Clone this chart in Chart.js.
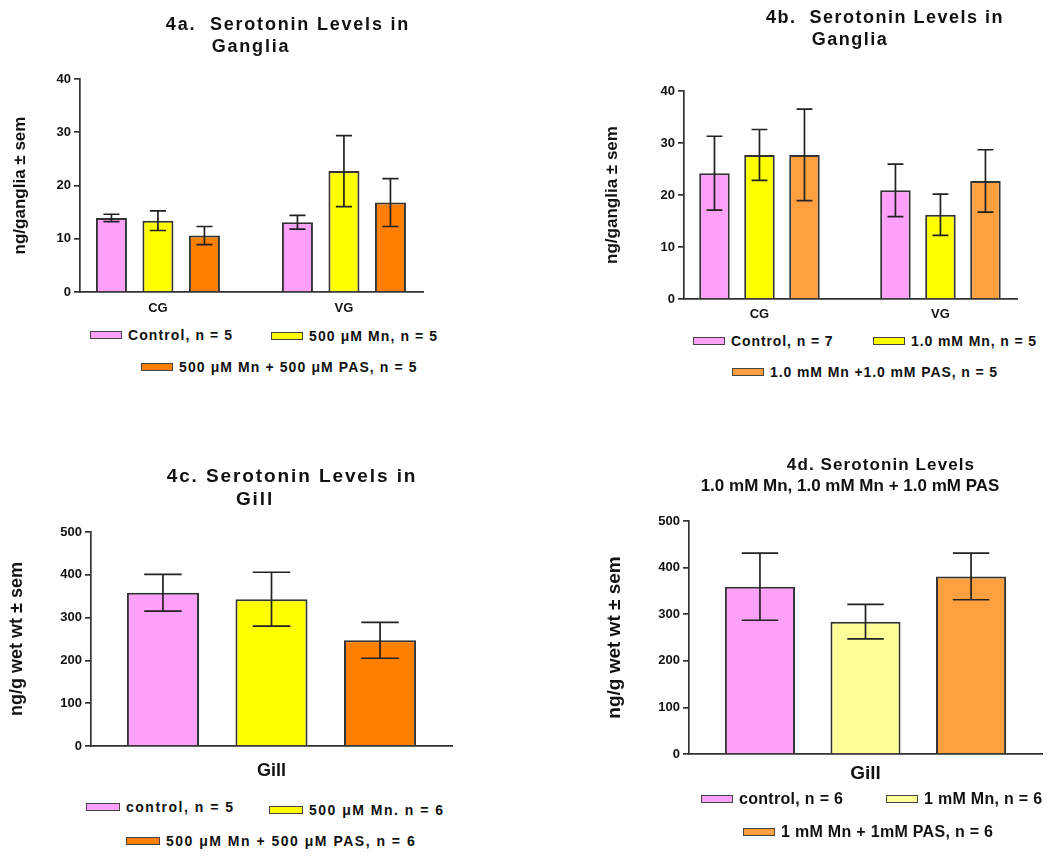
<!DOCTYPE html>
<html>
<head>
<meta charset="utf-8">
<script src="https://cdn.jsdelivr.net/npm/chart.js@4.4.0/dist/chart.umd.min.js"></script>
<style>
  body{margin:0;background:#fff;width:1050px;height:857px;position:relative;overflow:hidden;
       font-family:"Liberation Sans",Arial,sans-serif;color:#111}
  canvas{position:absolute}
  .t{position:absolute;font-weight:bold;white-space:pre;transform:translateX(-50%);line-height:1}
  .lg{position:absolute;display:flex;align-items:center;height:20px;font-weight:bold;white-space:pre;line-height:1}
  .lg i{display:inline-block;height:6px;border:1.5px solid #444;margin-right:6px}
</style>
</head>
<body>
<canvas id="c4a" width="440" height="322" style="left:0;top:0"></canvas>
<canvas id="c4b" width="447" height="330" style="left:590px;top:0"></canvas>
<canvas id="c4c" width="470" height="360" style="left:0;top:430px"></canvas>
<canvas id="c4d" width="460" height="350" style="left:590px;top:440px"></canvas>

<script>
// ---- data ----
const gangliaGroups = ['CG', 'VG'];
const gillGroups = ['Gill'];

// 4a  ng/ganglia, mean and sem for CG, VG
const a_ctrl = [13.9, 13.1],  a_ctrl_sem = [0.7, 1.3];
const a_mn   = [13.4, 22.7],  a_mn_sem   = [1.85, 6.65];
const a_pas  = [10.6, 16.8],  a_pas_sem  = [1.7, 4.5];
const a_names = ['Control, n = 5', '500 \u03bcM Mn, n = 5', '500 \u03bcM Mn + 500 \u03bcM PAS, n = 5'];

// 4b
const b_ctrl = [24.2, 20.9],  b_ctrl_sem = [7.1, 5.05];
const b_mn   = [27.7, 16.2],  b_mn_sem   = [4.9, 3.95];
const b_pas  = [27.7, 22.7],  b_pas_sem  = [8.8, 6.0];
const b_names = ['Control, n = 7', '1.0 mM Mn, n = 5', '1.0 mM Mn +1.0 mM PAS, n = 5'];

// 4c  ng/g wet wt
const c_vals = [358, 343, 247], c_sem = [43, 63, 42];
const c_names = ['control, n = 5', '500 \u03bcM Mn. n = 6', '500 \u03bcM Mn + 500 \u03bcM PAS, n = 6'];

// 4d
const d_vals = [359, 284, 381], d_sem = [72, 37, 50];
const d_names = ['control, n = 6', '1 mM Mn, n = 6', '1 mM Mn + 1mM PAS, n = 6'];

const yTicksA = {max: 40, step: 10};
const yTicksC = {max: 500, step: 100};

const PINK = '#ffa0fb', YEL = '#ffff00', ORG = '#ff8000', LORG = '#ffa040', LYEL = '#ffff99';
const FONT = '"Liberation Sans", Arial, sans-serif';

// mean +- sem whiskers over each bar
const semBars = {
  id: 'semBars',
  afterDatasetsDraw(chart) {
    const ctx = chart.ctx, y = chart.scales.y;
    ctx.save();
    ctx.strokeStyle = '#222'; ctx.lineWidth = 1.7;
    chart.data.datasets.forEach((ds, i) => {
      chart.getDatasetMeta(i).data.forEach((bar, j) => {
        const d = ds.data[j];
        const mean = typeof d === 'object' ? d.y : d;
        const hi = y.getPixelForValue(mean + ds.sem[j]);
        const lo = y.getPixelForValue(mean - ds.sem[j]);
        const half = bar.width * 0.26;
        ctx.beginPath();
        ctx.moveTo(bar.x, hi); ctx.lineTo(bar.x, lo);
        ctx.moveTo(bar.x - half, hi); ctx.lineTo(bar.x + half, hi);
        ctx.moveTo(bar.x - half, lo); ctx.lineTo(bar.x + half, lo);
        ctx.stroke();
      });
    });
    ctx.restore();
  }
};

function barSet(label, color, data, sem) {
  return {label, data, sem, backgroundColor: color, borderColor: '#333', borderWidth: 2};
}

function makeChart(id, o) {
  const xScale = o.groups.length > 1 ? {
      type: 'linear', min: o.xMin, max: o.xMax, offset: false,
      afterBuildTicks: s => { s.ticks = o.groups.map((_, i) => ({value: i})); },
      ticks: {callback: v => o.groups[v], font: {family: FONT, size: o.xFont, weight: 'bold'}, color: '#111', padding: o.xPad}
    } : {
      type: 'category', offset: true,
      ticks: {font: {family: FONT, size: o.xFont, weight: 'bold'}, color: '#111', padding: o.xPad}
    };
  Object.assign(xScale, {
    grid: {display: false},
    border: {display: true, color: '#333', width: 1.7},
    afterFit: s => { s.height = o.xH; }
  });
  return new Chart(document.getElementById(id), {
    type: 'bar',
    data: {labels: o.groups.length > 1 ? undefined : o.groups, datasets: o.datasets},
    options: {
      responsive: false, animation: false, devicePixelRatio: 1,
      categoryPercentage: o.cat, barPercentage: o.bar,
      layout: {padding: {top: o.padTop, right: o.padRight, left: 0, bottom: 0}},
      plugins: {legend: {display: false}, tooltip: {enabled: false}},
      scales: {
        x: xScale,
        y: {
          min: 0, max: o.yt.max,
          ticks: {stepSize: o.yt.step, font: {family: FONT, size: 13, weight: 'bold'}, color: '#111', padding: 3},
          grid: {drawOnChartArea: false, drawTicks: true, tickLength: 6, color: '#333', lineWidth: 1.7},
          border: {display: true, color: '#333', width: 1.7},
          title: {display: true, text: o.yTitle, color: '#111',
                  font: {family: FONT, size: o.yTitleSize, weight: 'bold', lineHeight: 1.2},
                  padding: {top: o.yTitlePad, bottom: 0}},
          afterFit: s => { s.width = o.yW; }
        }
      }
    },
    plugins: [semBars]
  });
}

const pts = arr => arr.map((v, i) => ({x: i, y: v}));

const chA = makeChart('c4a', {
  groups: gangliaGroups, xMin: -0.419, xMax: 1.425, cat: 0.75, bar: 0.667,
  padTop: 79, padRight: 17, yW: 80, xH: 30, xFont: 13, xPad: 1, yt: yTicksA,
  yTitle: 'ng/ganglia \u00b1 sem', yTitleSize: 17, yTitlePad: 9.8,
  datasets: [barSet(a_names[0], PINK, pts(a_ctrl), a_ctrl_sem),
             barSet(a_names[1], YEL, pts(a_mn), a_mn_sem),
             barSet(a_names[2], ORG, pts(a_pas), a_pas_sem)]
});

const chB = makeChart('c4b', {
  groups: gangliaGroups, xMin: -0.417, xMax: 1.423, cat: 0.746, bar: 0.678,
  padTop: 91, padRight: 20, yW: 94, xH: 31, xFont: 13, xPad: 0, yt: yTicksA,
  yTitle: 'ng/ganglia \u00b1 sem', yTitleSize: 17, yTitlePad: 11.8,
  datasets: [barSet(b_names[0], PINK, pts(b_ctrl), b_ctrl_sem),
             barSet(b_names[1], YEL, pts(b_mn), b_mn_sem),
             barSet(b_names[2], LORG, pts(b_pas), b_pas_sem)]
});

const chC = makeChart('c4c', {
  groups: gillGroups, cat: 0.902, bar: 0.664,
  padTop: 102, padRight: 18, yW: 91, xH: 44, xFont: 18, xPad: 6, yt: yTicksC,
  yTitle: 'ng/g wet wt \u00b1 sem', yTitleSize: 18, yTitlePad: 6.2,
  datasets: [barSet(c_names[0], PINK, [c_vals[0]], [c_sem[0]]),
             barSet(c_names[1], YEL, [c_vals[1]], [c_sem[1]]),
             barSet(c_names[2], ORG, [c_vals[2]], [c_sem[2]])]
});

const chD = makeChart('c4d', {
  groups: gillGroups, cat: 0.897, bar: 0.664,
  padTop: 81, padRight: 8, yW: 99, xH: 36, xFont: 19, xPad: 0, yt: yTicksC,
  yTitle: 'ng/g wet wt \u00b1 sem', yTitleSize: 19, yTitlePad: 13.6,
  datasets: [barSet(d_names[0], PINK, [d_vals[0]], [d_sem[0]]),
             barSet(d_names[1], LYEL, [d_vals[1]], [d_sem[1]]),
             barSet(d_names[2], LORG, [d_vals[2]], [d_sem[2]])]
});

// ---- titles ----
function title(text, cx, capTop, size, spacing) {
  const el = document.createElement('div');
  el.className = 't';
  el.textContent = text;
  el.style.cssText = `left:${cx}px;top:${capTop - 0.13 * size}px;font-size:${size}px;letter-spacing:${spacing}px`;
  document.body.appendChild(el);
}
title('4a.  Serotonin Levels in', 288, 17, 18, 1.8);
title('Ganglia', 251, 39, 18, 1.8);
title('4b.  Serotonin Levels in', 885, 10, 18, 1.5);
title('Ganglia', 850, 32, 18, 1.5);
title('4c. Serotonin Levels in', 292, 468, 19, 1.9);
title('Gill', 255, 491, 19, 1.9);
title('4d. Serotonin Levels', 881, 458, 17, 1.1);
title('1.0 mM Mn, 1.0 mM Mn + 1.0 mM PAS', 850, 479, 17, 0);

// ---- legends built from the datasets ----
function legend(chart, spots, size, spacing, boxW) {
  chart.data.datasets.forEach((ds, i) => {
    const el = document.createElement('div');
    el.className = 'lg';
    el.style.cssText = `left:${spots[i][0]}px;top:${spots[i][1] - 10}px;font-size:${size}px;letter-spacing:${spacing}px`;
    const box = document.createElement('i');
    box.style.background = ds.backgroundColor;
    box.style.width = (boxW - 3) + 'px';
    el.appendChild(box);
    el.appendChild(document.createTextNode(ds.label));
    document.body.appendChild(el);
  });
}
legend(chA, [[90, 335], [271, 335.5], [141, 367]], 14, 1.1, 33);
legend(chB, [[693, 341], [873, 341], [732, 372]], 14, 0.9, 33);
legend(chC, [[86, 807], [269, 809.5], [126, 841]], 14, 1.5, 35);
legend(chD, [[701, 799], [886, 799], [743, 832]], 16, 0.3, 33);
</script>
</body>
</html>
